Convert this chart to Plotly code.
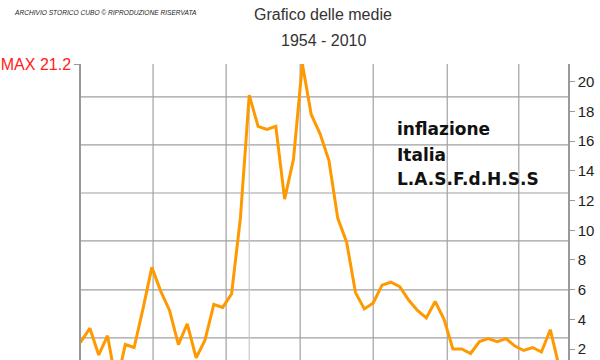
import plotly.graph_objects as go

# ---- data ----
years = list(range(1954, 2011))
inflazione = [
    2.6, 2.5, 3.4, 1.6, 2.9, -0.4, 2.3, 2.1, 4.7, 7.5,   # 1954-1963
    5.9, 4.6, 2.3, 3.7, 1.4, 2.6, 5.0, 4.8, 5.7, 10.8,   # 1964-1973
    19.1, 17.0, 16.8, 17.0, 12.1, 14.8, 21.2, 17.8, 16.5, 14.7,  # 1974-1983
    10.8, 9.2, 5.8, 4.7, 5.1, 6.3, 6.5, 6.2, 5.3, 4.6,   # 1984-1993
    4.1, 5.2, 4.0, 2.0, 2.0, 1.7, 2.5, 2.7, 2.5, 2.7,    # 1994-2003
    2.2, 1.9, 2.1, 1.8, 3.3, 0.8, 1.1,                   # 2004-2010
]
right_ticks = [2, 4, 6, 8, 10, 12, 14, 16, 18, 20]
hgrid_vals = [2.75, 5.98, 9.28, 12.51, 15.75, 18.98]
vgrid_frac = [0.148, 0.298, 0.450, 0.600, 0.752, 0.899]
highlight_year = 1974

title1 = "Grafico delle medie"
title2 = "1954 - 2010"
credit = "ARCHIVIO STORICO CUBO © RIPRODUZIONE RISERVATA"
label_lines = ["inflazione", "Italia", "L.A.S.F.d.H.S.S"]

vmax = max(inflazione)
x_range = [1955, 2010]
y_range = [1.26, vmax]

W, H = 600, 360
L, R, T, B = 81, 32, 64, 0
pw, ph = W - L - R, H - T - B


def px2paper_x(px):
    return (px - L) / pw


def px2paper_y(py):
    return (H - B - py) / ph


fig = go.Figure()
fig.add_trace(go.Scatter(
    x=years, y=inflazione, mode="lines",
    line=dict(color="#ff9900", width=3),
    hoverinfo="skip", showlegend=False,
))
# invisible anchor for the left (MAX) axis
fig.add_trace(go.Scatter(
    x=[years[inflazione.index(vmax)]], y=[vmax], yaxis="y2", mode="markers",
    marker=dict(opacity=0), hoverinfo="skip", showlegend=False,
))

shapes = []
for v in hgrid_vals:
    shapes.append(dict(type="line", xref="x domain", yref="y", x0=0, x1=1, y0=v, y1=v,
                       line=dict(color="#a0a0a0", width=1.2), layer="below"))
for f in vgrid_frac:
    shapes.append(dict(type="line", xref="x domain", yref="y domain", x0=f, x1=f, y0=0, y1=1,
                       line=dict(color="#a0a0a0", width=1.2), layer="below"))
shapes.append(dict(type="line", xref="x", yref="y domain", x0=highlight_year, x1=highlight_year,
                   y0=0, y1=0.89, line=dict(color="#c8c8c8", width=1.2), layer="below"))

annotations = [
    dict(text=credit, x=px2paper_x(12), y=px2paper_y(13), xref="paper", yref="paper",
         xanchor="left", yanchor="middle", showarrow=False,
         font=dict(family="Liberation Sans, Arial", size=6.6, color="#222", style="italic")),
    dict(text=title1, x=px2paper_x(323), y=px2paper_y(14), xref="paper", yref="paper",
         xanchor="center", yanchor="middle", showarrow=False,
         font=dict(family="Liberation Sans, Arial", size=16, color="#333")),
    dict(text=title2, x=px2paper_x(324), y=px2paper_y(40.5), xref="paper", yref="paper",
         xanchor="center", yanchor="middle", showarrow=False,
         font=dict(family="Liberation Sans, Arial", size=16, color="#333")),
]
for txt, py in zip(label_lines, [128.5, 154.5, 179]):
    annotations.append(dict(text="<b>%s</b>" % txt, x=px2paper_x(395), y=px2paper_y(py),
                            xref="paper", yref="paper", xanchor="left", yanchor="middle",
                            showarrow=False,
                            font=dict(family="DejaVu Sans", size=17, color="#111")))

fig.update_layout(
    width=W, height=H,
    margin=dict(l=L, r=R, t=T, b=B, pad=0),
    paper_bgcolor="white", plot_bgcolor="white",
    xaxis=dict(range=x_range, showgrid=False, zeroline=False, showticklabels=False,
               showline=False, ticks=""),
    yaxis=dict(range=y_range, side="right", showgrid=False, zeroline=False, automargin=False,
               tickvals=right_ticks, ticks="outside", ticklen=5, tickcolor="#999",
               showline=True, linecolor="#999", linewidth=1.5,
               tickfont=dict(family="Liberation Sans, Arial", size=15, color="#222")),
    yaxis2=dict(range=y_range, overlaying="y", side="left", showgrid=False, zeroline=False,
                automargin=False,
                tickvals=[vmax], ticktext=["MAX %s" % vmax], ticks="outside", ticklen=5,
                tickcolor="#999", showline=True, linecolor="#999", linewidth=1.5,
                tickfont=dict(family="Liberation Sans, Arial", size=16, color="#ff2020")),
    shapes=shapes, annotations=annotations,
)

fig.write_html("out.html", config={"displayModeBar": False},
               post_script="document.body.style.margin='0';document.body.style.padding='0';")
